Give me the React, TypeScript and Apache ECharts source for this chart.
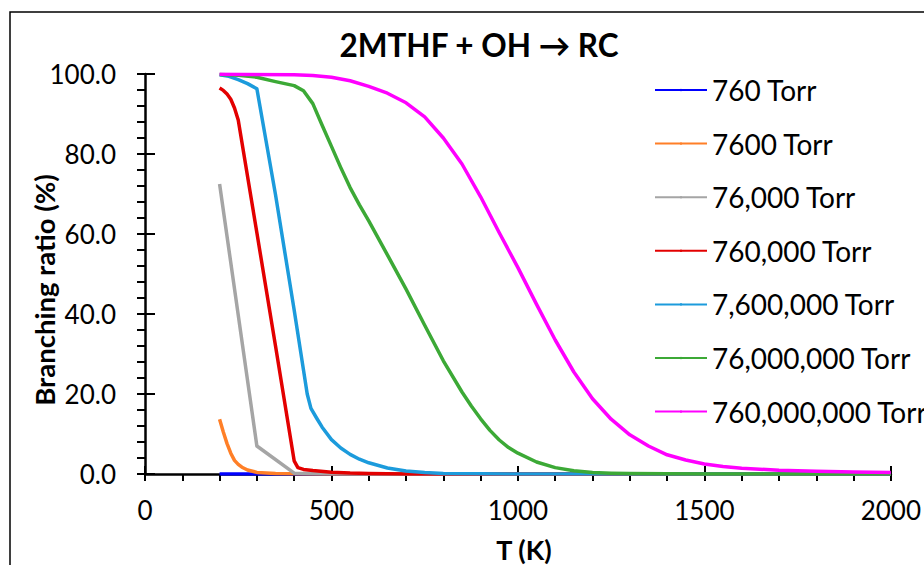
import React, { useEffect, useRef } from "react";
import * as echarts from "echarts";

const seriesNames = [
  "760 Torr",
  "7600 Torr",
  "76,000 Torr",
  "760,000 Torr",
  "7,600,000 Torr",
  "76,000,000 Torr",
  "760,000,000 Torr",
];

const colors = ["#0000FF", "#FF7F27", "#A5A5A5", "#E30000", "#1C9BDC", "#3CA936", "#FF00FF"];

const s760: [number, number][] = [
  [200, 0.02], [300, 0.01], [400, 0], [600, 0], [1000, 0], [1500, 0], [2000, 0],
];
const s7600: [number, number][] = [
  [200, 13.7], [210, 10.5], [220, 7.6], [230, 5.2], [240, 3.4], [250, 2.4], [260, 1.7],
  [275, 1.0], [300, 0.4], [350, 0.12], [400, 0.04], [500, 0.01], [1000, 0], [2000, 0],
];
const s76k: [number, number][] = [
  [200, 72.5], [300, 7.0], [400, 0.2], [500, 0.05], [600, 0.01], [1000, 0], [2000, 0],
];
const s760k: [number, number][] = [
  [200, 96.5], [210, 95.9], [220, 95.0], [230, 93.7], [240, 91.5], [250, 88.5],
  [300, 60.3], [350, 32.0], [400, 3.3], [410, 1.6], [425, 1.15], [450, 0.85],
  [500, 0.45], [550, 0.22], [600, 0.1], [700, 0.03], [800, 0.01], [1000, 0], [2000, 0],
];
const s7600k: [number, number][] = [
  [200, 99.8], [225, 99.4], [250, 98.6], [275, 97.6], [300, 96.3], [350, 69.8],
  [400, 41.0], [425, 26.0], [435, 20.0], [445, 16.4], [460, 14.0], [475, 11.7],
  [500, 8.6], [525, 6.5], [550, 4.9], [575, 3.7], [600, 2.8], [650, 1.5], [700, 0.75],
  [750, 0.35], [800, 0.15], [900, 0.04], [1000, 0.01], [1500, 0], [2000, 0],
];
const s76M: [number, number][] = [
  [200, 99.9], [250, 99.7], [300, 99.2], [350, 98.1], [400, 97.1], [425, 95.8],
  [450, 92.6], [475, 87.2], [500, 81.9], [525, 76.6], [550, 71.6], [575, 67.3],
  [600, 63.3], [650, 54.8], [700, 46.2], [750, 37.2], [800, 28.3], [850, 20.5],
  [875, 17.0], [900, 13.8], [925, 10.9], [950, 8.5], [975, 6.6], [1000, 5.2],
  [1050, 3.0], [1100, 1.6], [1150, 0.8], [1200, 0.4], [1250, 0.2], [1300, 0.1],
  [1400, 0.04], [1500, 0.02], [1700, 0.01], [2000, 0.01],
];
const s760M: [number, number][] = [
  [200, 99.95], [300, 99.9], [400, 99.8], [450, 99.6], [500, 99.2], [550, 98.3],
  [600, 96.9], [650, 95.2], [700, 92.8], [750, 89.3], [800, 84.0], [850, 77.5],
  [900, 69.3], [950, 60.3], [1000, 51.6], [1050, 42.4], [1100, 33.5], [1150, 25.5],
  [1200, 18.8], [1250, 13.7], [1300, 9.8], [1350, 7.0], [1400, 4.8], [1450, 3.5],
  [1500, 2.5], [1550, 1.9], [1600, 1.45], [1700, 0.95], [1800, 0.7], [1900, 0.5],
  [2000, 0.4],
];

const allData = [s760, s7600, s76k, s760k, s7600k, s76M, s760M];

const xTicks = { min: 0, max: 2000, interval: 500 };
const yTicks = { min: 0, max: 100, interval: 20 };

const FONT = "Lato";

export default function App() {
  const ref = useRef<HTMLDivElement>(null);
  useEffect(() => {
    if (!ref.current) return;
    const chart = echarts.init(ref.current, undefined, { renderer: "svg" });
    const axisLine = { show: true, lineStyle: { color: "#000", width: 2.5 } };
    const option: any = {
      animation: false,
      backgroundColor: "#fff",
      title: {
        text: "2MTHF + OH \u2192 RC",
        left: 474,
        top: 24,
        textAlign: "center",
        textStyle: { fontFamily: FONT, fontWeight: "bold", fontSize: 31.5, color: "#000" },
      },
      grid: { left: 145, top: 74, right: 32, bottom: 91 },
      legend: {
        orient: "vertical",
        left: 649,
        top: 70,
        itemWidth: 52,
        itemHeight: 3,
        itemGap: 23.6,
        textStyle: { fontFamily: FONT, fontSize: 28, color: "#000", lineHeight: 30 },
        data: seriesNames,
      },
      xAxis: [
        {
          type: "value",
          ...xTicks,
          position: "bottom",
          axisLine,
          axisTick: { show: true, inside: false, length: 7, lineStyle: { color: "#000", width: 2 } },
          minorTick: { show: true, splitNumber: 5, length: 7, lineStyle: { color: "#000", width: 2 } },
          splitLine: { show: false },
          minorSplitLine: { show: false },
          axisLabel: {
            fontFamily: FONT,
            fontSize: 26,
            color: "#000",
            margin: 23,
            formatter: (v: number) => String(v),
          },
        },
        {
          type: "value",
          ...xTicks,
          position: "bottom",
          axisLine: { show: false },
          axisTick: { show: true, inside: true, length: 8, lineStyle: { color: "#000", width: 2 } },
          splitLine: { show: false },
          axisLabel: { show: false },
        },
      ],
      yAxis: [
        {
          type: "value",
          ...yTicks,
          position: "left",
          axisLine,
          axisTick: { show: true, inside: false, length: 8, lineStyle: { color: "#000", width: 2 } },
          minorTick: { show: true, splitNumber: 5, length: 8, lineStyle: { color: "#000", width: 2 } },
          splitLine: { show: false },
          minorSplitLine: { show: false },
          axisLabel: {
            fontFamily: FONT,
            fontSize: 26,
            color: "#000",
            margin: 29,
            formatter: (v: number) => v.toFixed(1),
          },
        },
        {
          type: "value",
          ...yTicks,
          position: "left",
          axisLine: { show: false },
          axisTick: { show: true, inside: true, length: 10, lineStyle: { color: "#000", width: 2 } },
          splitLine: { show: false },
          axisLabel: { show: false },
        },
      ],
      series: seriesNames.map((name, i) => ({
        name,
        type: "line",
        xAxisIndex: 0,
        yAxisIndex: 0,
        data: allData[i],
        symbol: "none",
        color: colors[i],
        lineStyle: { color: colors[i], width: 3.5, join: "round" },
        z: 3 + i,
      })),
      graphic: [
        {
          type: "rect",
          shape: { x: 10, y: 12, width: 1000, height: 700 },
          style: { fill: "none", stroke: "#000", lineWidth: 1.5 },
          silent: true,
          z: -1,
        },
        {
          type: "text",
          x: 44,
          y: 290,
          rotation: Math.PI / 2,
          style: {
            text: "Branching ratio (%)",
            font: `bold 27.5px ${FONT}`,
            fill: "#000",
            textAlign: "center",
            textVerticalAlign: "middle",
          },
        },
        {
          type: "text",
          x: 524,
          y: 549,
          style: {
            text: "T (K)",
            font: `bold 27px ${FONT}`,
            fill: "#000",
            textAlign: "center",
            textVerticalAlign: "middle",
          },
        },
      ],
    };
    chart.setOption(option);
    return () => chart.dispose();
  }, []);
  return (
    <div
      ref={ref}
      style={{ position: "fixed", left: 0, top: 0, width: 924, height: 565 }}
    />
  );
}
